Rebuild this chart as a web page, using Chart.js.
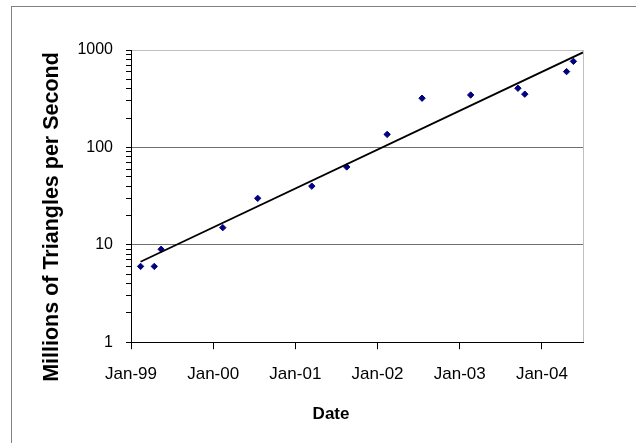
<!DOCTYPE html>
<html>
<head>
<meta charset="utf-8">
<script src="https://cdn.jsdelivr.net/npm/chart.js@4/dist/chart.umd.min.js"></script>
<style>
  html, body { margin: 0; padding: 0; background: #ffffff; }
  #wrap { position: relative; width: 636px; height: 443px; overflow: hidden; }
  #frame { position: absolute; left: 11px; top: 6px; width: 700px; height: 500px;
           border-left: 1px solid #808080; border-top: 1px solid #808080; }
  canvas { position: absolute; left: 0; top: 0; }
</style>
</head>
<body>
<div id="wrap">
  <div id="frame"></div>
  <canvas id="c" width="636" height="443"></canvas>
</div>
<script>
// Months elapsed since January 1999 for each measured product
const monthsSinceJan99 = [1.4, 3.4, 4.4, 13.4, 18.5, 26.4, 31.5, 37.4, 42.5, 49.6, 56.5, 57.5, 63.6, 64.6];
// Millions of triangles per second
const trianglesPerSec = [6, 6, 9, 15, 30, 40, 63, 136, 320, 345, 405, 352, 600, 765];
// Trend line end points
const trendMonths = [1.4, 66];
const trendValues = [6.7, 945];
// Axis ticks
const xTickMonths = [0, 12, 24, 36, 48, 60];
const xTickLabels = ['Jan-99', 'Jan-00', 'Jan-01', 'Jan-02', 'Jan-03', 'Jan-04'];
const xMaxMonths = 66;
const yMajorTicks = [1, 10, 100, 1000];
const yMinorMultipliers = [2, 3, 4, 5, 6, 7, 8, 9];
const xTitle = 'Date';
const yTitle = 'Millions of Triangles per Second';

const pointsData = monthsSinceJan99.map((m, i) => ({ x: m, y: trianglesPerSec[i] }));
const trendData = trendMonths.map((m, i) => ({ x: m, y: trendValues[i] }));

const yAllTicks = [];
yMajorTicks.forEach((v, i) => {
  yAllTicks.push(v);
  if (i < yMajorTicks.length - 1) yMinorMultipliers.forEach(k => yAllTicks.push(v * k));
});

const FONT = "'Liberation Sans', Arial, sans-serif";

new Chart(document.getElementById('c'), {
  type: 'scatter',
  data: {
    datasets: [
      {
        label: 'Trend',
        data: trendData,
        showLine: true,
        borderColor: '#000000',
        borderWidth: 1.8,
        pointRadius: 0,
        fill: false,
        order: 0
      },
      {
        label: yTitle,
        data: pointsData,
        pointStyle: 'rectRot',
        pointRadius: 3.2,
        pointBorderWidth: 1,
        backgroundColor: '#000080',
        borderColor: '#000080',
        order: 1
      }
    ]
  },
  options: {
    responsive: false,
    animation: false,
    events: [],
    layout: { padding: { left: 39, right: 53, top: 50, bottom: 18 } },
    plugins: { legend: { display: false }, tooltip: { enabled: false } },
    scales: {
      x: {
        type: 'linear',
        min: 0,
        max: xMaxMonths,
        afterBuildTicks: (scale) => {
          scale.ticks = xTickMonths.concat([xMaxMonths]).map(v => ({ value: v }));
        },
        ticks: {
          autoSkip: false,
          maxRotation: 0,
          padding: 15,
          color: '#000000',
          font: { family: FONT, size: 17 },
          callback: (v) => {
            const i = xTickMonths.indexOf(v);
            return i >= 0 ? xTickLabels[i] : '';
          }
        },
        grid: {
          drawOnChartArea: true,
          tickLength: 7,
          lineWidth: 1,
          color: (ctx) => (ctx.tick && ctx.tick.value === xMaxMonths) ? '#c0c0c0' : 'rgba(0,0,0,0)',
          tickColor: (ctx) => (ctx.tick && ctx.tick.value === xMaxMonths) ? 'rgba(0,0,0,0)' : '#000000'
        },
        border: { display: true, color: '#000000', width: 1 },
        title: {
          display: true,
          text: xTitle + '           ',
          color: '#000000',
          font: { family: FONT, size: 17, weight: 'bold' },
          padding: { top: 5, bottom: 0 }
        }
      },
      y: {
        type: 'logarithmic',
        min: 1,
        max: 1000,
        afterBuildTicks: (scale) => {
          scale.ticks = yAllTicks.map(v => ({ value: v }));
        },
        afterFit: (scale) => { scale.width = 92; },
        ticks: {
          autoSkip: false,
          padding: 13,
          color: '#000000',
          font: { family: FONT, size: 16 },
          callback: (v) => yMajorTicks.includes(v) ? String(v) : ''
        },
        grid: {
          drawOnChartArea: true,
          tickLength: 5,
          lineWidth: 1,
          color: (ctx) => {
            const v = ctx.tick && ctx.tick.value;
            if (v === 10 || v === 100) return '#707070';
            if (v === 1000) return '#c0c0c0';
            return 'rgba(0,0,0,0)';
          },
          tickColor: '#000000'
        },
        border: { display: true, color: '#000000', width: 1 },
        title: {
          display: true,
          text: yTitle + '       ',
          color: '#000000',
          font: { family: FONT, size: 21.5, weight: 'bold' },
          padding: { top: 0, bottom: 0 }
        }
      }
    }
  }
});
</script>
</body>
</html>
